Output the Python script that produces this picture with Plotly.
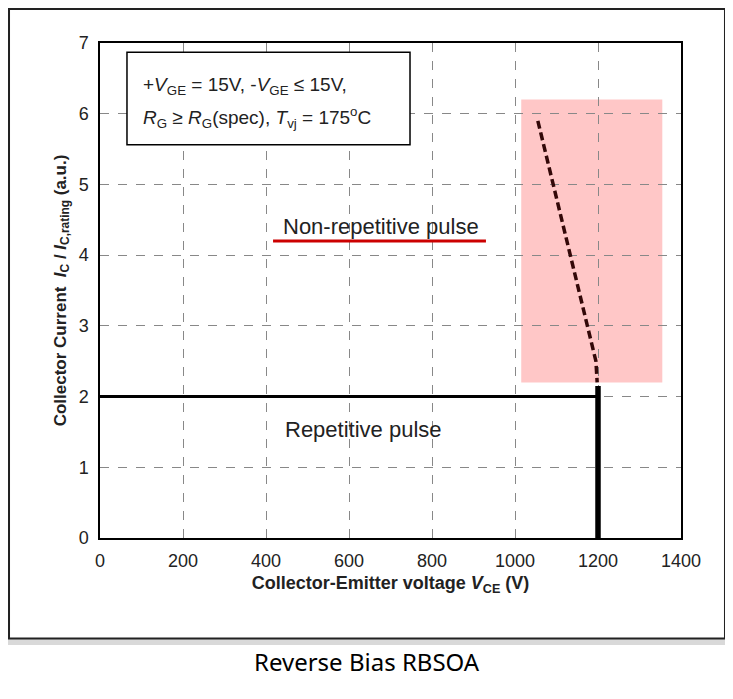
import plotly.graph_objects as go

# safe operating area outlines (V, a.u.)
repetitive_v = [0, 1200]
repetitive_i = [2, 2]
limit_v = [1200, 1200]
limit_i = [0, 2.15]
nonrep_v = [1055, 1180, 1195, 1198]
nonrep_i = [5.9, 2.85, 2.5, 2.2]

x_ticks = [0, 200, 400, 600, 800, 1000, 1200, 1400]
y_ticks = [0, 1, 2, 3, 4, 5, 6, 7]

fig = go.Figure()

fig.add_trace(go.Scatter(x=repetitive_v, y=repetitive_i, mode="lines",
                         line=dict(color="black", width=3)))
fig.add_trace(go.Scatter(x=limit_v, y=limit_i, mode="lines",
                         line=dict(color="black", width=5.5)))
fig.add_trace(go.Scatter(x=nonrep_v, y=nonrep_i, mode="lines",
                         line=dict(color="#330808", width=3.5, dash="8px,4px")))

# image frame
fig.add_shape(type="rect", xref="paper", yref="paper", x0=-0.172, x1=1.09,
              y0=-0.216, y1=1.09, fillcolor="#d9d9d9", line_width=0, layer="below")
fig.add_shape(type="rect", xref="paper", yref="paper", x0=-0.1566, x1=1.0757,
              y0=-0.203, y1=1.0687, fillcolor="white",
              line=dict(color="#222", width=2), layer="below")

# highlighted non-repetitive region
fig.add_shape(type="rect", x0=1015, x1=1355, y0=2.2, y1=6.2,
              fillcolor="rgba(255,0,0,0.22)", line_width=0, layer="below")

# condition box
fig.add_shape(type="rect", x0=65, x1=747, y0=5.56, y1=6.87,
              fillcolor="white", line=dict(color="black", width=1.5), layer="above")
fig.add_annotation(x=98, y=6.39, xanchor="left", showarrow=False,
                   text="+<i>V</i><sub>GE</sub> = 15V, -<i>V</i><sub>GE</sub> ≤ 15V,",
                   font=dict(size=19, color="#222"))
fig.add_annotation(x=98, y=5.94, xanchor="left", showarrow=False,
                   text="<i>R</i><sub>G</sub> ≥ <i>R</i><sub>G</sub>(spec), "
                        "<i>T</i><sub>vj</sub> = 175<sup>o</sup>C",
                   font=dict(size=19, color="#222"))

fig.add_annotation(x=677, y=4.41, text="Non-repetitive pulse", showarrow=False,
                   font=dict(size=22, color="#222"))
fig.add_shape(type="line", x0=417, x1=930, y0=4.2, y1=4.2,
              line=dict(color="#cc0000", width=3))
fig.add_annotation(x=634, y=1.53, text="Repetitive pulse", showarrow=False,
                   font=dict(size=22, color="#222"))

fig.add_annotation(xref="paper", yref="paper", x=0.46, y=-0.25, yanchor="middle",
                   text="Reverse Bias RBSOA", showarrow=False,
                   font=dict(family="Noto Sans", size=24, color="black"))

fig.update_xaxes(range=[0, 1400], tickvals=x_ticks, showline=True, mirror=True,
                 linecolor="black", linewidth=1.5, showgrid=True, gridcolor="#888",
                 griddash="dash", gridwidth=1, zeroline=False, ticks="",
                 ticklabelstandoff=6, tickfont=dict(size=18, color="#222"),
                 title=dict(text="<b>Collector-Emitter voltage <i>V</i><sub>CE</sub> (V)</b>",
                            font=dict(size=18, color="#222"), standoff=6))
fig.update_yaxes(range=[0, 7], tickvals=y_ticks, showline=True, mirror=True,
                 linecolor="black", linewidth=1.5, showgrid=True, gridcolor="#888",
                 griddash="dash", gridwidth=1, zeroline=False, ticks="",
                 ticklabelstandoff=6, tickfont=dict(size=18, color="#222"),
                 title=dict(text="<b>Collector Current  <i>I</i><sub>C</sub> / "
                                 "<i>I</i><sub>C,rating</sub> (a.u.)</b>",
                            font=dict(size=17, color="#222"), standoff=8))

fig.update_layout(width=725, height=691, showlegend=False,
                  margin=dict(l=92, r=52, t=35, b=161),
                  paper_bgcolor="white", plot_bgcolor="white",
                  font=dict(family="Liberation Sans"))

fig.write_html("out.html")
